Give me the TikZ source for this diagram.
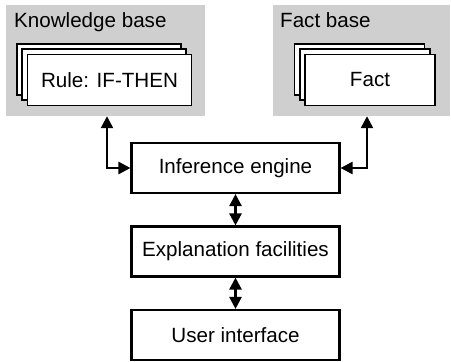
\documentclass[tikz,border=0pt]{standalone}
\usepackage{fontspec}
\setmainfont{Liberation Sans}
\usetikzlibrary{arrows.meta,calc}
\begin{document}
\begin{tikzpicture}[x=1pt,y=-1pt,
  every node/.style={font=\fontsize{20.6}{24}\selectfont, inner sep=0pt},
  panel/.style={fill=black!19, draw=none},
  card/.style={draw, fill=white, line width=1.9pt, minimum height=51pt},
  block/.style={draw, fill=white, line width=2.1pt, minimum width=208pt, minimum height=50pt},
  link/.style={line width=2.4pt, {Triangle[length=12pt,width=12pt]}-{Triangle[length=12pt,width=12pt]}}
]
\useasboundingbox (0,0) rectangle (451,362);

% knowledge base panel with stacked rule cards
\node[panel, minimum width=199pt, minimum height=111pt] (kb) at (105.5,60.5) {};
\node[anchor=base west] (kbtitle) at (14,27) {Knowledge base};
\node[card, minimum width=164pt] (rule3) at (99,69.5) {};
\node[card, minimum width=164pt] (rule2) at (104.25,74.75) {};
\node[card, minimum width=164pt] (rule) at (109.5,80) {Rule: IF-THEN};

% fact base panel with stacked fact cards
\node[panel, minimum width=177pt, minimum height=111pt] (fb) at (361.5,60.5) {};
\node[anchor=base west] (fbtitle) at (280,27) {Fact base};
\node[card, minimum width=130pt] (fact3) at (359.5,69.5) {};
\node[card, minimum width=130pt] (fact2) at (364.75,74.75) {};
\node[card, minimum width=130pt] (fact) at (370,80) {Fact};

% main chain of components
\node[block] (ie) at (235.5,168) {Inference engine};
\node[block] (ex) at (235.5,251.5) {Explanation facilities};
\node[block] (ui) at (235.5,335) {User interface};

% connectors
\draw[link] (ie.west) -| ([xshift=1.5pt]kb.south);
\draw[link] (ie.east) -| ([xshift=-3pt]fact.south |- fb.south);
\draw[link] (ie.south) -- (ex.north);
\draw[link] (ex.south) -- (ui.north);
\end{tikzpicture}
\end{document}
